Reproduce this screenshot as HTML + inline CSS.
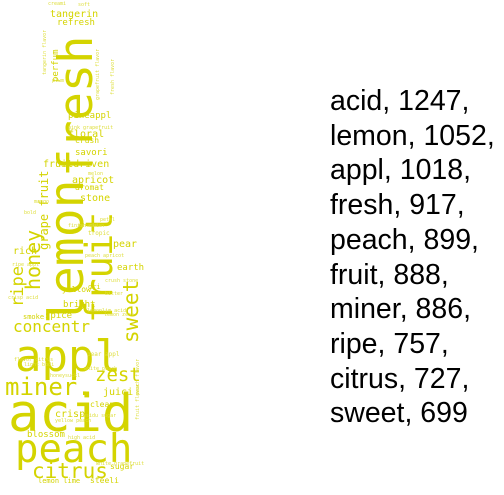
<!DOCTYPE html>
<html><head><meta charset="utf-8">
<style>
html,body{margin:0;padding:0;background:#fff;}
#wrap{position:relative;width:504px;height:495px;overflow:hidden;background:#fff;}
.w{position:absolute;white-space:nowrap;line-height:1;color:rgb(212,212,0);font-family:"DejaVu Sans Mono","Liberation Mono",monospace;}
.v{transform:rotate(-90deg);transform-origin:0 0;}
.s{color:rgb(222,222,60);}
#list{position:absolute;left:330px;top:84px;font-family:"Liberation Sans",Arial,sans-serif;font-size:28.5px;line-height:34.7px;color:#000;}
</style></head>
<body>
<div id="wrap">
<div id="cloud"></div>
<div id="list"></div>
</div>
<script>
// [text, x (left or baseline-x), y (baseline or bottom), fontSize, vertical]
const words = [
 ["acid",8,432,52,0],["appl",15,372,44,0],["peach",15,463,39,0],["miner.",5,395,24,0],
 ["zest",95,382,19,0],["citrus",32,479,21,0],["concentr",13,333,16,0],["juici",103,396,10,0],
 ["lemon",84,324,48,1],["fresh",93,177,47,1],["fruit",112,323,37,1],["honey",40,290,20,1],
 ["ripe",24,307,17,1],["sweet",139,343,21,1],["grape fruit",48,250,12,1],["perfum",60,82,9,1],
 ["tangerin",50,18,10,0],["refresh",57,27,9,0],["pineappl",68,120,9,0],["floral",68,138,10,0],
 ["crush",75,144,8,0],["savori",75,157,9,0],["fruitdriven",43,168,10,0],["apricot",72,184,10,0],
 ["aromat",75,191,8,0],["stone",80,202,10,0],["pear",113,248,10,0],["rich",13,255,10,0],
 ["earth",117,272,9,0],["yellow",62,293,8,0],["bright",63,309,9,0],["smoke",23,320,7,0],
 ["spice",45,320,9,0],["dri",88,290,7,0],["crisp",55,418,10,0],["blossom",27,439,9,0],
 ["clean",90,408,8,0],["sugar",110,470,8,0],["lemon lime",38,484,7,0],["steeli",90,484,8,0],
 ["creami",48,6,5,0],["soft",78,7,5,0],["plum",52,83,5,0],["melon",88,176,5,0],
 ["mango",34,204,5,0],["bold",24,215,5,0],["finish clean",68,228,5,0],["petal",100,222,5,0],
 ["tropic",88,236,6,0],["caramel",78,228,5,0],["white peach",84,371,5,0],["honeysuckl",50,378,5,0],
 ["flavor citrus",14,362,5,0],["light bodi",24,367,5,0],["pear appl",87,357,6,0],["yellow peach",55,423,5,0],
 ["high acid",68,440,5,0],["white grapefruit",96,466,5,0],["peach apricot",85,258,5,0],["crush stone",105,283,5,0],
 ["lemonlim acid",87,313,5,0],["ripe appl",12,267,5,0],["crisp acid",8,300,5,0],["residu sugar",80,418,5,0],
 ["pink grapefruit",68,130,5,0],["fresh flavor",115,95,5,1],["tangerin flavor",47,75,5,1],["grapefruit flavor",100,100,5,1],
 ["fruit flavor",140,420,5,1],["peach flavor",140,395,5,1],["bitter",105,296,5,0],["lemon zest",104,317,5,0]
];
const topWords = ["acid","lemon","appl","fresh","peach","fruit","miner","ripe","citrus","sweet"];
const topCounts = [1247,1052,1018,917,899,888,886,757,727,699];

const cloud = document.getElementById('cloud');
words.forEach(function(d){
  const el = document.createElement('div');
  
  
  el.className = 'w' + (d[4] ? ' v' : '') + (d[3] < 7 ? ' s' : '');
  el.textContent = d[0];
  el.style.fontSize = d[3] + 'px';
  if (d[4]) { el.style.left = (d[1] - 0.846*d[3]) + 'px'; el.style.top = d[2] + 'px'; }
  else { el.style.left = d[1] + 'px'; el.style.top = (d[2] - 0.846*d[3]) + 'px'; }
  cloud.appendChild(el);
});
const list = document.getElementById('list');
topWords.forEach(function(w, i){
  const el = document.createElement('div');
  
  
  el.textContent = w + ', ' + topCounts[i] + (i < topWords.length - 1 ? ',' : '');
  list.appendChild(el);
});
</script>
</body></html>
